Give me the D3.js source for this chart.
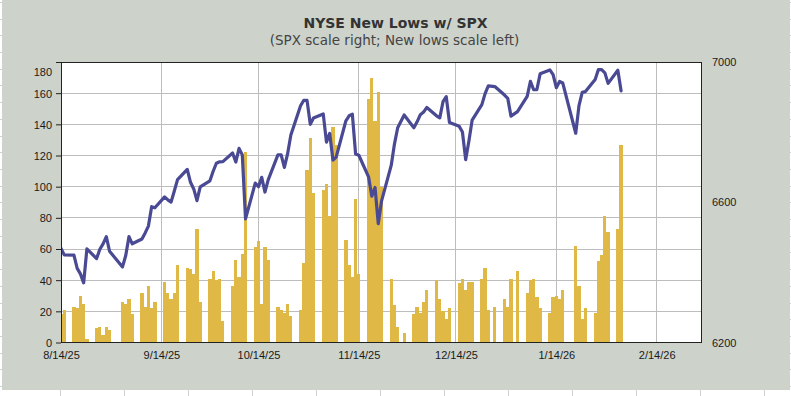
<!DOCTYPE html>
<html>
<head>
<meta charset="utf-8">
<script src="https://cdn.jsdelivr.net/npm/d3@7"></script>
<style>
  html, body { margin: 0; padding: 0; background: #ffffff; }
  svg { display: block; }
</style>
</head>
<body>
<script>
// ---------- DATA ----------
const title = "NYSE New Lows w/ SPX";
const subtitle = "(SPX scale right; New lows scale left)";

const dates = [
  "2025-08-14","2025-08-15","2025-08-18","2025-08-19","2025-08-20","2025-08-21","2025-08-22",
  "2025-08-25","2025-08-26","2025-08-27","2025-08-28","2025-08-29",
  "2025-09-02","2025-09-03","2025-09-04","2025-09-05",
  "2025-09-08","2025-09-09","2025-09-10","2025-09-11","2025-09-12",
  "2025-09-15","2025-09-16","2025-09-17","2025-09-18","2025-09-19",
  "2025-09-22","2025-09-23","2025-09-24","2025-09-25","2025-09-26",
  "2025-09-29","2025-09-30",
  "2025-10-01","2025-10-02","2025-10-03",
  "2025-10-06","2025-10-07","2025-10-08","2025-10-09","2025-10-10",
  "2025-10-13","2025-10-14","2025-10-15","2025-10-16","2025-10-17",
  "2025-10-20","2025-10-21","2025-10-22","2025-10-23","2025-10-24",
  "2025-10-27","2025-10-28","2025-10-29","2025-10-30","2025-10-31",
  "2025-11-03","2025-11-04","2025-11-05","2025-11-06","2025-11-07",
  "2025-11-10","2025-11-11","2025-11-12","2025-11-13","2025-11-14",
  "2025-11-17","2025-11-18","2025-11-19","2025-11-20","2025-11-21",
  "2025-11-24","2025-11-25","2025-11-26","2025-11-28",
  "2025-12-01","2025-12-02","2025-12-03","2025-12-04","2025-12-05",
  "2025-12-08","2025-12-09","2025-12-10","2025-12-11","2025-12-12",
  "2025-12-15","2025-12-16","2025-12-17","2025-12-18","2025-12-19",
  "2025-12-22","2025-12-23","2025-12-24","2025-12-26",
  "2025-12-29","2025-12-30","2025-12-31",
  "2026-01-02",
  "2026-01-05","2026-01-06","2026-01-07","2026-01-08","2026-01-09",
  "2026-01-12","2026-01-13","2026-01-14","2026-01-15","2026-01-16",
  "2026-01-20","2026-01-21","2026-01-22","2026-01-23",
  "2026-01-26","2026-01-27","2026-01-28","2026-01-29","2026-01-30",
  "2026-02-02","2026-02-03"
];

const newLows = [
  18, 21, 23, 22, 30, 25, 2,
  9, 10, 5, 10, 8,
  26, 25, 28, 18,
  32, 23, 36, 22, 26,
  39, 32, 28, 32, 50,
  48, 47, 44, 73, 26,
  41, 46,
  40, 41, 14,
  36, 53, 42, 57, 122,
  61, 65, 25, 61, 53,
  23, 21, 19, 25, 17,
  21, 51, 111, 131, 96,
  98, 102, 81, 138, 127,
  66, 50, 42, 92, 44,
  156, 170, 142, 161, 100,
  41, 24, 10, 6,
  18, 23, 19, 26, 34,
  40, 28, 20, 15, 22,
  38, 41, 34, 39, 39,
  41, 48, 21, 23,
  28, 23, 41,
  46,
  32, 40, 41, 29, 22,
  19, 29, 30, 28, 34,
  62, 36, 15, 22,
  19, 52, 56, 81, 71,
  73, 127
];

const spx = [
  6468.54, 6449.80, 6449.15, 6411.37, 6395.78, 6370.17, 6466.91,
  6439.32, 6465.94, 6481.40, 6501.86, 6460.26,
  6415.54, 6448.26, 6502.08, 6481.50,
  6495.15, 6512.61, 6532.04, 6587.47, 6584.29,
  6615.28, 6606.76, 6600.35, 6631.96, 6664.36,
  6693.75, 6656.92, 6637.97, 6604.72, 6643.70,
  6661.21, 6688.46,
  6711.20, 6715.35, 6715.79,
  6740.28, 6714.59, 6753.72, 6735.11, 6552.51,
  6654.72, 6644.31, 6671.06, 6629.07, 6664.01,
  6735.13, 6735.35, 6699.40, 6738.44, 6791.69,
  6875.16, 6890.89, 6890.59, 6822.34, 6840.20,
  6851.97, 6771.55, 6796.29, 6720.32, 6728.80,
  6832.43, 6846.61, 6850.92, 6737.49, 6734.11,
  6672.41, 6617.32, 6642.16, 6538.76, 6602.99,
  6705.12, 6765.88, 6812.61, 6849.09,
  6812.63, 6829.37, 6849.72, 6857.12, 6870.40,
  6846.51, 6840.51, 6886.68, 6901.00, 6827.41,
  6816.51, 6800.26, 6721.43, 6774.76, 6834.50,
  6878.49, 6909.79, 6932.05, 6929.94,
  6905.74, 6896.24, 6845.50,
  6858.47,
  6902.05, 6944.82, 6920.93, 6921.46, 6966.28,
  6977.27, 6963.74, 6926.60, 6944.47, 6940.01,
  6796.86, 6875.62, 6913.35, 6915.61,
  6950.23, 6978.60, 6978.03, 6969.01, 6939.03,
  6976.44, 6917.81
];

const xDomain = ["2025-08-14", "2026-02-28"];
const xTickDates = ["2025-08-14","2025-09-14","2025-10-14","2025-11-14","2025-12-14","2026-01-14","2026-02-14"];
const xTickLabels = ["8/14/25","9/14/25","10/14/25","11/14/25","12/14/25","1/14/26","2/14/26"];
const leftTicks = [0, 20, 40, 60, 80, 100, 120, 140, 160, 180];
const rightTicks = [6200, 6600, 7000];
const leftDomain = [0, 180];
const rightDomain = [6200, 7000];

// ---------- LAYOUT ----------
const W = 791, H = 396;
const plot = { left: 61, right: 702, top: 62, bottom: 342.5 };
const colors = {
  panel: "#CDD2CB",
  bar: "#E0B846",
  line: "#4A4A94",
  grid: "#BDBDBD",
  border: "#222222",
  text: "#1a1a1a",
  title: "#333333",
  subtitle: "#444444"
};

const parse = d3.utcParse("%Y-%m-%d");
const rows = dates.map((d, i) => ({ date: parse(d), lows: newLows[i], spx: spx[i] }));

const svg = d3.select("body").append("svg").attr("width", W).attr("height", H);

// outer page edge marks
const edge = svg.append("g").attr("stroke", "#d0d0d0").attr("stroke-width", 1);
d3.range(60, W, 64).forEach(x => edge.append("line").attr("x1", x + 0.5).attr("x2", x + 0.5).attr("y1", 390).attr("y2", H));
d3.range(386, 0, -16.7).forEach(y => {
  edge.append("line").attr("x1", 0).attr("x2", 2).attr("y1", Math.round(y) + 0.5).attr("y2", Math.round(y) + 0.5);
  edge.append("line").attr("x1", 790).attr("x2", W).attr("y1", Math.round(y) + 0.5).attr("y2", Math.round(y) + 0.5);
});

// panel
svg.append("rect").attr("x", 2).attr("y", 0).attr("width", 788).attr("height", 390).attr("fill", colors.panel);

// plot background
svg.append("rect")
  .attr("x", plot.left).attr("y", plot.top)
  .attr("width", plot.right - plot.left).attr("height", plot.bottom - plot.top)
  .attr("fill", "#ffffff");

const x = d3.scaleUtc().domain(xDomain.map(parse)).range([plot.left, plot.right]);
const yL = d3.scaleLinear().domain(leftDomain).range([plot.bottom, plot.top]);
const yR = d3.scaleLinear().domain(rightDomain).range([plot.bottom, plot.top]);

// gridlines
const grid = svg.append("g").attr("stroke", colors.grid).attr("stroke-width", 1).attr("shape-rendering", "crispEdges");
leftTicks.slice(1, -1).forEach(t => {
  grid.append("line").attr("x1", plot.left).attr("x2", plot.right).attr("y1", yL(t)).attr("y2", yL(t));
});
xTickDates.slice(1).forEach(d => {
  grid.append("line").attr("x1", x(parse(d))).attr("x2", x(parse(d))).attr("y1", plot.top).attr("y2", plot.bottom);
});

// clip
svg.append("clipPath").attr("id", "plotclip").append("rect")
  .attr("x", plot.left).attr("y", plot.top)
  .attr("width", plot.right - plot.left).attr("height", plot.bottom - plot.top);

// bars
const dayMs = 86400000;
svg.append("g").attr("clip-path", "url(#plotclip)").attr("shape-rendering", "crispEdges")
  .selectAll("rect").data(rows).join("rect")
  .attr("x", d => Math.round(x(new Date(+d.date - dayMs / 2))))
  .attr("width", d => Math.round(x(new Date(+d.date + dayMs / 2))) - Math.round(x(new Date(+d.date - dayMs / 2))))
  .attr("y", d => yL(d.lows))
  .attr("height", d => yL(0) - yL(d.lows))
  .attr("fill", colors.bar);

// SPX line
const line = d3.line().x(d => x(d.date)).y(d => yR(d.spx));
svg.append("path").datum(rows)
  .attr("clip-path", "url(#plotclip)")
  .attr("d", line)
  .attr("fill", "none")
  .attr("stroke", colors.line)
  .attr("stroke-width", 3.2)
  .attr("stroke-linejoin", "round")
  .attr("stroke-linecap", "round");

// border
svg.append("rect")
  .attr("x", plot.left + 0.5).attr("y", plot.top + 0.5)
  .attr("width", plot.right - plot.left - 1).attr("height", plot.bottom - plot.top - 0.5)
  .attr("fill", "none").attr("stroke", colors.border).attr("stroke-width", 1);

// left axis
const leftAxis = d3.axisLeft(yL).tickValues(leftTicks).tickSize(5).tickPadding(4).tickFormat(d3.format("d"));
const gL = svg.append("g").attr("transform", `translate(${plot.left},0)`).call(leftAxis);
gL.select(".domain").remove();
gL.selectAll(".tick line").attr("stroke", colors.border);
gL.selectAll(".tick text")
  .attr("fill", colors.text)
  .style("font-family", "'Liberation Sans', Arial, sans-serif")
  .style("font-size", "11px")
  .attr("dy", d => d === leftTicks[leftTicks.length - 1] ? "1.2em" : "0.35em");

// right axis
const rightAxis = d3.axisRight(yR).tickValues(rightTicks).tickSize(0).tickPadding(10).tickFormat(d3.format("d"));
const gR = svg.append("g").attr("transform", `translate(${plot.right},0)`).call(rightAxis);
gR.select(".domain").remove();
gR.selectAll(".tick text")
  .attr("fill", colors.text)
  .style("font-family", "'Liberation Sans', Arial, sans-serif")
  .style("font-size", "11px");

// bottom axis
const bottomAxis = d3.axisBottom(x).tickValues(xTickDates.map(parse)).tickSize(0).tickPadding(9)
  .tickFormat((d, i) => xTickLabels[i]);
const gB = svg.append("g").attr("transform", `translate(0,${plot.bottom})`).call(bottomAxis);
gB.select(".domain").remove();
gB.selectAll(".tick text")
  .attr("fill", colors.text)
  .style("font-family", "'Liberation Sans', Arial, sans-serif")
  .style("font-size", "11px");

// titles
svg.append("text").attr("x", W / 2).attr("y", 27.5).attr("text-anchor", "middle")
  .style("font-family", "'DejaVu Sans', Verdana, sans-serif").style("font-size", "14px").style("font-weight", "bold")
  .attr("fill", colors.title).text(title);
svg.append("text").attr("x", W / 2 - 1).attr("y", 45).attr("text-anchor", "middle")
  .style("font-family", "'DejaVu Sans', Verdana, sans-serif").style("font-size", "13.5px")
  .attr("fill", colors.subtitle).text(subtitle);
</script>
</body>
</html>
